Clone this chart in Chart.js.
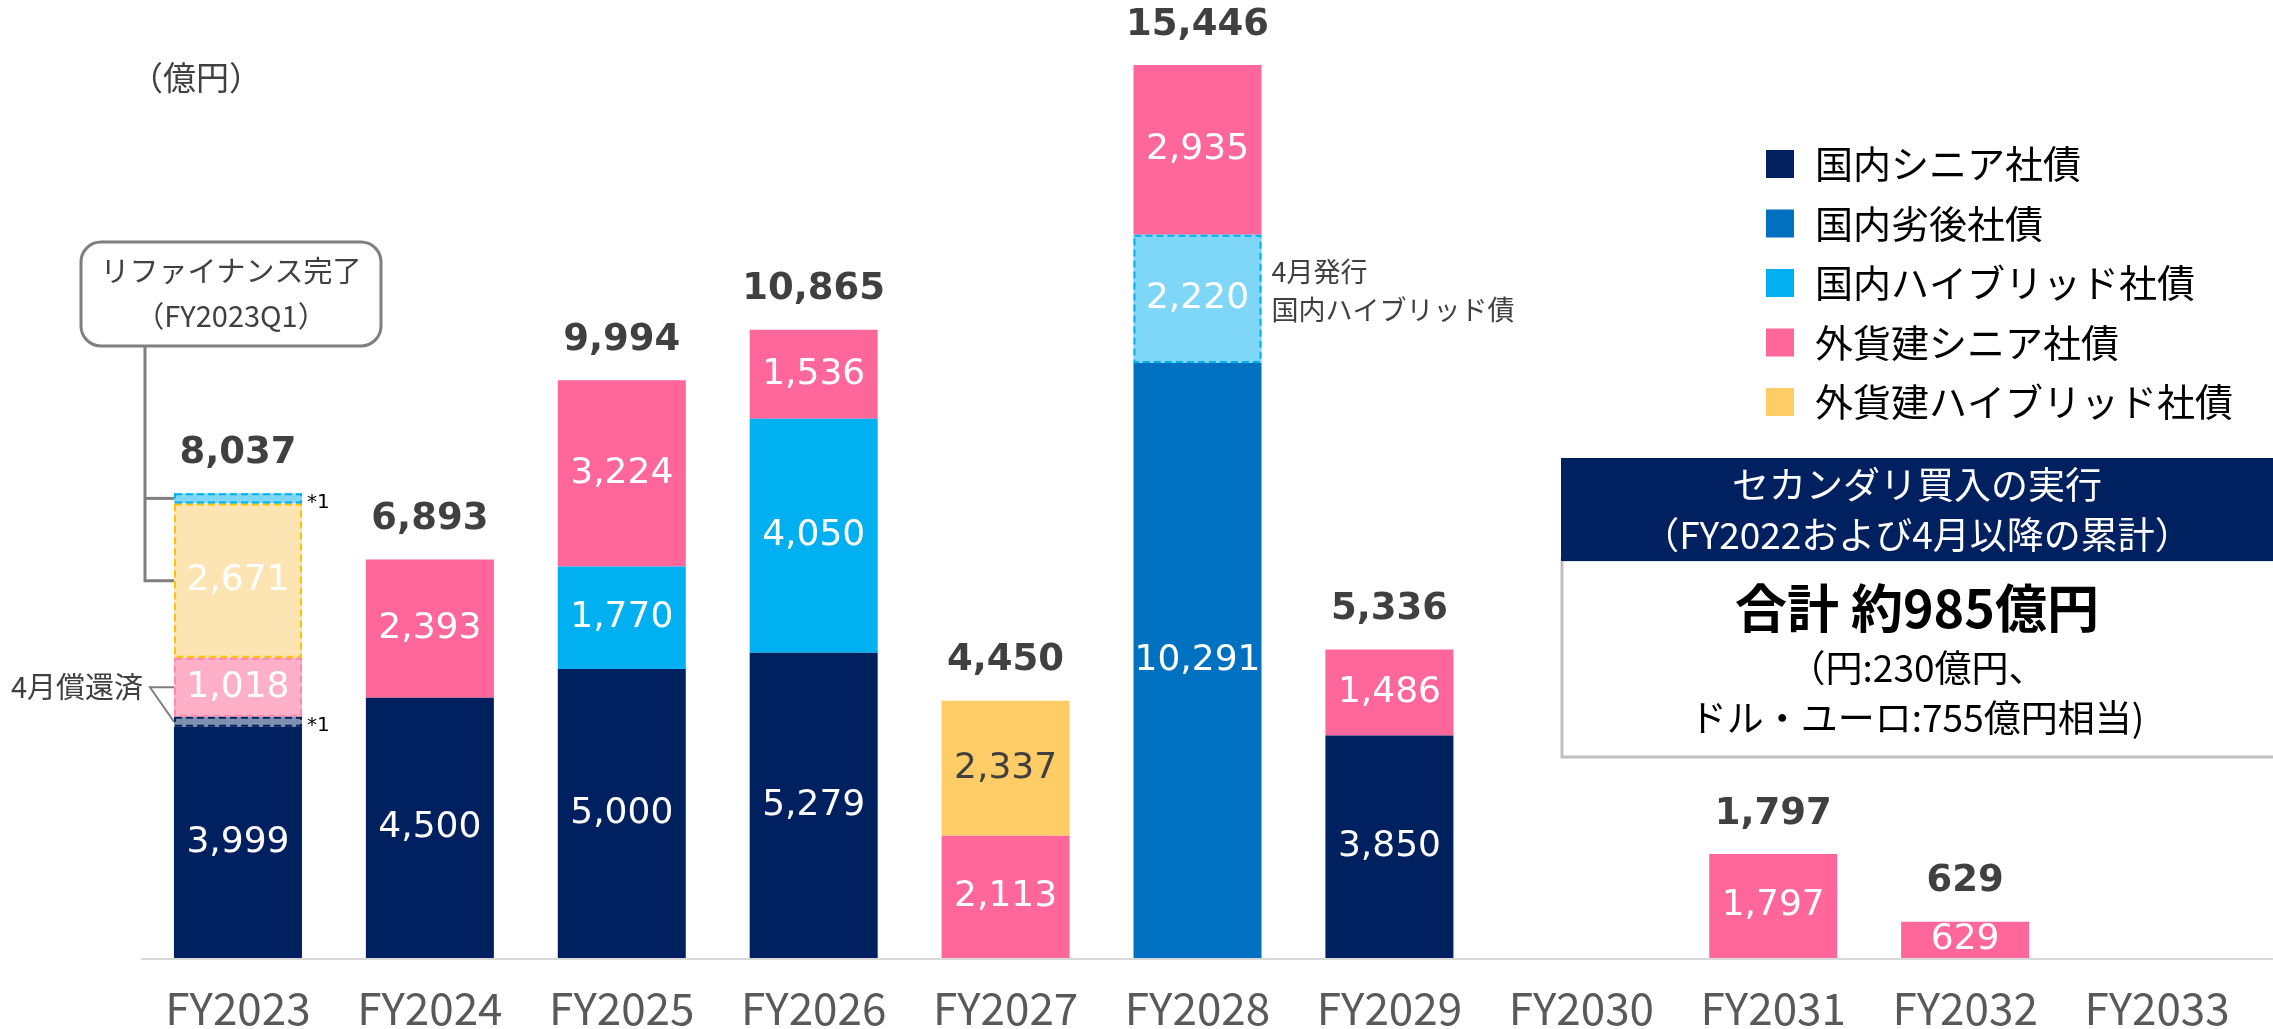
<!DOCTYPE html>
<html>
<head>
<meta charset="utf-8">
<script src="https://cdn.jsdelivr.net/npm/chart.js@4.4.0/dist/chart.umd.min.js"></script>
<style>
body { margin: 0; background: #ffffff; }
#Caja { width: 2273px; height: 1029px; position: relative; }
</style>
</head>
<body>
<div id="Caja"><canvas id="myChart"></canvas></div>
<script>
var Years = ['FY2023', 'FY2024', 'FY2025', 'FY2026', 'FY2027', 'FY2028', 'FY2029', 'FY2030', 'FY2031', 'FY2032', 'FY2033'];

// values in 億円
var DomesticSenior      = [3999, 4500, 5000, 5279, 0, 0, 3850, 0, 0, 0, 0];
var SeniorRedeemed      = [175, 0, 0, 0, 0, 0, 0, 0, 0, 0, 0];
var DomesticSub         = [0, 0, 0, 0, 0, 10291, 0, 0, 0, 0, 0];
var DomesticHybrid      = [0, 0, 1770, 4050, 0, 0, 0, 0, 0, 0, 0];
var AprilHybrid         = [0, 0, 0, 0, 0, 2220, 0, 0, 0, 0, 0];
var ForeignSenior       = [0, 2393, 3224, 1536, 2113, 2935, 1486, 0, 1797, 629, 0];
var ForeignRedeemed     = [1018, 0, 0, 0, 0, 0, 0, 0, 0, 0, 0];
var ForeignHybrid       = [0, 0, 0, 0, 2337, 0, 0, 0, 0, 0, 0];
var RefinancedHybrid    = [2671, 0, 0, 0, 0, 0, 0, 0, 0, 0, 0];
var RefinancedHybridQ1  = [174, 0, 0, 0, 0, 0, 0, 0, 0, 0, 0];
var Totals              = [8037, 6893, 9994, 10865, 4450, 15446, 5336, 0, 1797, 629, 0];

var LegendNames  = ['国内シニア社債', '国内劣後社債', '国内ハイブリッド社債', '外貨建シニア社債', '外貨建ハイブリッド社債'];
var LegendColors = ['#002060', '#0070C0', '#00B0F0', '#FF6699', '#FFCC66'];

var JP = '"Noto Sans CJK JP", "Noto Sans", sans-serif';
var NUM = '"DejaVu Sans", Verdana, sans-serif';

function Serie(data, color, textColor, dash)
{
    return { data: data, backgroundColor: color, borderWidth: 0, textColor: textColor, dash: dash };
}

var datasets = [
    Serie(DomesticSenior, '#002060', '#ffffff', null),
    Serie(SeniorRedeemed, '#7F8FAF', null, '#002060'),
    Serie(DomesticSub, '#0070C0', '#ffffff', null),
    Serie(DomesticHybrid, '#00B0F0', '#ffffff', null),
    Serie(AprilHybrid, '#7FD7F7', '#ffffff', '#00B0F0'),
    Serie(ForeignSenior, '#FF6699', '#ffffff', null),
    Serie(ForeignRedeemed, '#FDB0C8', '#ffffff', '#FF85AD'),
    Serie(ForeignHybrid, '#FFCC66', '#404040', null),
    Serie(RefinancedHybrid, '#FDE5B3', '#ffffff', '#FFC000'),
    Serie(RefinancedHybridQ1, '#7FD7F7', null, '#00B0F0')
];

function Bar(chart, ds, i)
{
    return chart.getDatasetMeta(ds).data[i];
}

function Line(ctx, pts)
{
    ctx.beginPath();
    ctx.moveTo(pts[0][0], pts[0][1]);
    for (var k = 1; k < pts.length; k++) ctx.lineTo(pts[k][0], pts[k][1]);
    ctx.stroke();
}

var Extras = {
    id: 'extras',
    afterDatasetsDraw: function(chart)
    {
        var ctx = chart.ctx;
        var area = chart.chartArea;
        var y = chart.scales.y;
        ctx.save();

        // baseline
        ctx.strokeStyle = '#D9D9D9';
        ctx.lineWidth = 2;
        Line(ctx, [[141, area.bottom + 1], [2273, area.bottom + 1]]);

        // dashed outlines + inside labels
        chart.data.datasets.forEach(function(ds, d)
        {
            ds.data.forEach(function(v, i)
            {
                if (!v) return;
                var b = Bar(chart, d, i);
                if (ds.dash)
                {
                    ctx.setLineDash([7, 4]);
                    ctx.strokeStyle = ds.dash;
                    ctx.lineWidth = 2;
                    ctx.strokeRect(b.x - b.width / 2 + 1, b.y + 1, b.width - 2, b.base - b.y - 2);
                    ctx.setLineDash([]);
                }
                if (ds.textColor)
                {
                    ctx.fillStyle = ds.textColor;
                    ctx.font = '36px ' + NUM;
                    ctx.textAlign = 'center';
                    ctx.textBaseline = 'middle';
                    ctx.fillText(v.toLocaleString('en-US'), b.x, (b.y + b.base) / 2);
                }
            });
        });

        // totals
        ctx.fillStyle = '#404040';
        ctx.font = 'bold 37px ' + NUM;
        ctx.textAlign = 'center';
        ctx.textBaseline = 'middle';
        Totals.forEach(function(t, i)
        {
            if (!t) return;
            var x = chart.scales.x.getPixelForValue(i);
            ctx.fillText(t.toLocaleString('en-US'), x, y.getPixelForValue(t) - 40);
        });

        // FY2023 callouts
        var q1 = Bar(chart, 9, 0);
        var ref = Bar(chart, 8, 0);
        var fr = Bar(chart, 6, 0);
        var sr = Bar(chart, 1, 0);
        var left = ref.x - ref.width / 2;
        var right = ref.x + ref.width / 2;

        ctx.strokeStyle = '#7F7F7F';
        ctx.lineWidth = 3;
        ctx.beginPath();
        ctx.roundRect(81, 242, 300, 104, 20);
        ctx.stroke();
        var qMid = (q1.y + q1.base) / 2;
        var rMid = (ref.y + ref.base) / 2;
        Line(ctx, [[145, 346], [145, rMid], [left, rMid]]);
        Line(ctx, [[145, qMid], [left, qMid]]);

        ctx.fillStyle = '#404040';
        ctx.font = '29px ' + JP;
        ctx.textAlign = 'center';
        ctx.fillText('リファイナンス完了', 231, 271);
        ctx.fillText('（FY2023Q1）', 231, 316);

        var fMid = (fr.y + fr.base) / 2;
        var sMid = (sr.y + sr.base) / 2;
        ctx.lineWidth = 2;
        Line(ctx, [[left, fMid], [150, fMid], [left, sMid]]);
        ctx.textAlign = 'right';
        ctx.font = '29px ' + JP;
        ctx.fillText('4月償還済', 143, fMid);

        ctx.fillStyle = '#000000';
        ctx.textAlign = 'left';
        ctx.font = '20px ' + NUM;
        ctx.fillText('*1', right + 5, qMid + 4);
        ctx.fillText('*1', right + 5, sMid + 4);

        // FY2028 callout
        var ap = Bar(chart, 4, 5);
        var aMid = (ap.y + ap.base) / 2;
        ctx.fillStyle = '#404040';
        ctx.font = '27px ' + JP;
        ctx.fillText('4月発行', ap.x + ap.width / 2 + 10, aMid - 27);
        ctx.fillText('国内ハイブリッド債', ap.x + ap.width / 2 + 10, aMid + 11);

        // unit
        ctx.font = '33px ' + JP;
        ctx.fillText('（億円）', 130, 77);

        // legend
        LegendNames.forEach(function(n, k)
        {
            var ly = 164 + k * 59.5;
            ctx.fillStyle = LegendColors[k];
            ctx.fillRect(1766, ly - 14, 28, 28);
            ctx.fillStyle = '#000000';
            ctx.font = '38px ' + JP;
            ctx.textAlign = 'left';
            ctx.fillText(n, 1815, ly);
        });

        // secondary purchase panel
        ctx.fillStyle = '#ffffff';
        ctx.strokeStyle = '#BFBFBF';
        ctx.lineWidth = 3;
        ctx.fillRect(1562, 560, 720, 197);
        ctx.strokeRect(1562, 560, 720, 197);
        ctx.fillStyle = '#002060';
        ctx.fillRect(1561, 458, 712, 103);
        ctx.textAlign = 'center';
        ctx.fillStyle = '#ffffff';
        ctx.font = '37px ' + JP;
        ctx.fillText('セカンダリ買入の実行', 1917, 485);
        ctx.fillText('（FY2022および4月以降の累計）', 1917, 535);
        ctx.fillStyle = '#000000';
        ctx.font = 'bold 52px ' + JP;
        ctx.fillText('合計 約985億円', 1917, 608);
        ctx.font = '37px ' + JP;
        ctx.fillText('（円:230億円、', 1917, 668);
        ctx.fillText('ドル・ユーロ:755億円相当)', 1917, 718);

        ctx.restore();
    }
};

function Graficas()
{
    Chart.defaults.font.family = JP;
    var ctx = document.getElementById('myChart').getContext('2d');
    var chart = new Chart(ctx, {
        type: 'bar',
        data: { labels: Years, datasets: datasets },
        options: {
            responsive: true,
            maintainAspectRatio: false,
            animation: false,
            layout: { padding: { left: 142, right: 20, top: 33, bottom: -29 } },
            datasets: { bar: { categoryPercentage: 1, barPercentage: 0.667 } },
            plugins: { legend: { display: false }, tooltip: { enabled: false } },
            scales: {
                x: {
                    stacked: true,
                    grid: { display: false, drawTicks: false },
                    border: { display: false },
                    ticks: { color: '#595959', padding: 28, font: { family: JP, size: 44, lineHeight: 1 } }
                },
                y: { stacked: true, display: false, min: 0, max: 16000 }
            }
        },
        plugins: [Extras]
    });
}

Graficas();
</script>
</body>
</html>
